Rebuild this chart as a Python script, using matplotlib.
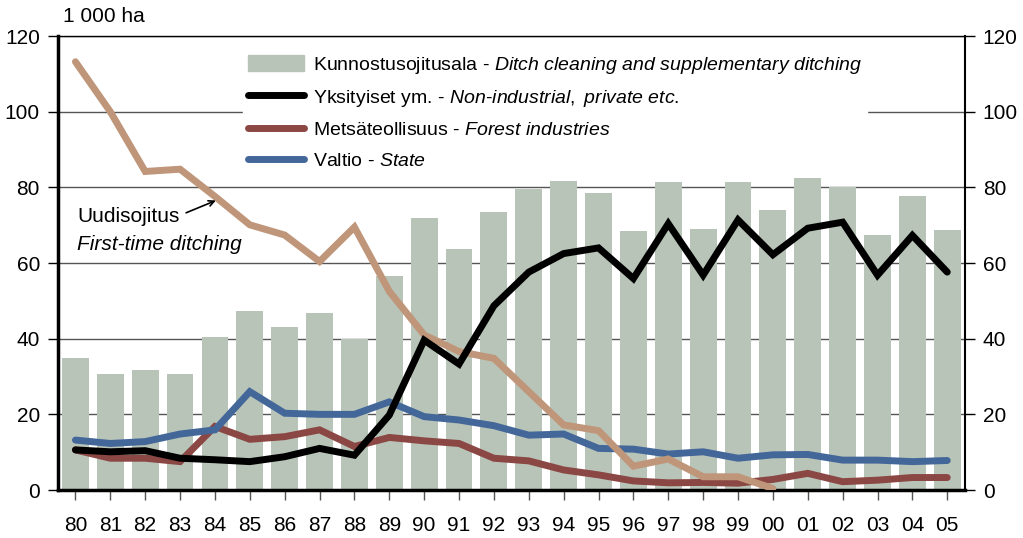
import numpy as np
import matplotlib
matplotlib.use("Agg")
import matplotlib.pyplot as plt
from matplotlib.lines import Line2D
from matplotlib.patches import Patch

plt.rcParams['font.family'] = ['Liberation Sans', 'DejaVu Sans']
plt.rcParams['mathtext.fontset'] = 'custom'
plt.rcParams['mathtext.rm'] = 'Liberation Sans'
plt.rcParams['mathtext.it'] = 'Liberation Sans:italic'

years = ["80", "81", "82", "83", "84", "85", "86", "87", "88", "89", "90", "91", "92",
         "93", "94", "95", "96", "97", "98", "99", "00", "01", "02", "03", "04", "05"]
kunnostus = [34.9, 30.7, 31.7, 30.7, 40.4, 47.3, 43.1, 46.8, 39.9, 56.6, 71.9, 63.7, 73.5,
             79.6, 81.8, 78.6, 68.4, 81.3, 69.0, 81.3, 74.1, 82.5, 80.0, 67.3, 77.8, 68.6]
yksityiset = [10.6, 10.1, 10.4, 8.4, 8.0, 7.5, 8.8, 11.0, 9.2, 19.8, 39.6, 33.3, 48.7,
              57.6, 62.5, 64.0, 55.9, 70.4, 56.8, 71.4, 62.2, 69.2, 70.8, 56.8, 67.3, 57.6]
metsateollisuus = [10.6, 8.4, 8.4, 7.5, 16.8, 13.4, 14.1, 15.9, 11.5, 13.9, 13.0, 12.3, 8.4,
                   7.7, 5.3, 4.0, 2.4, 1.9, 2.0, 1.8, 2.8, 4.4, 2.2, 2.6, 3.3, 3.3]
valtio = [13.2, 12.3, 12.8, 14.8, 15.9, 26.0, 20.3, 20.0, 20.0, 23.3, 19.4, 18.5, 17.0,
          14.5, 14.8, 11.0, 10.8, 9.5, 10.1, 8.4, 9.3, 9.4, 7.9, 7.9, 7.5, 7.8]
# first-time ditching, ends in 2000
uudisojitus = [113.2, 100.0, 84.2, 84.8, 77.6, 70.1, 67.4, 60.4, 69.5, 52.5, 41.0, 36.6, 34.8,
               26.0, 17.2, 15.7, 6.3, 8.2, 3.5, 3.5, 0.4]

C_BAR = "#b8c4b8"
C_BLACK = "#000000"
C_BROWN = "#8b4744"
C_BLUE = "#44679a"
C_TAN = "#bf967a"

x = np.arange(len(years))
fig = plt.figure(figsize=(10.23, 5.38), dpi=100)
ax = fig.add_axes([0.0567, 0.0892, 0.8863, 0.8438])

ax.set_axisbelow(True)
ax.yaxis.grid(True, color="#555555", lw=1.0)
ax.bar(x, kunnostus, width=0.77, color=C_BAR, zorder=2)
lw = 5
kw = dict(lw=lw, solid_capstyle="round", solid_joinstyle="miter")
ax.plot(x, yksityiset, color=C_BLACK, zorder=4, **kw)
ax.plot(x, metsateollisuus, color=C_BROWN, zorder=3, **kw)
ax.plot(x, valtio, color=C_BLUE, zorder=3, **kw)
ax.plot(x[:len(uudisojitus)], uudisojitus, color=C_TAN, zorder=3, **kw)

ax.set_xlim(-0.5, len(years) - 0.5)
ax.set_ylim(0, 120)
ax.set_yticks(range(0, 121, 20))
ax.set_xticks(x)
ax.set_xticklabels(years)
ax.tick_params(axis="y", labelsize=15, length=7, width=1, direction="out", pad=6,
               left=True, right=True, labelleft=True, labelright=True)
ax.tick_params(axis="x", labelsize=15, length=7, width=1, color="#555555", pad=12)

for s in ["left", "bottom"]:
    ax.spines[s].set_linewidth(2.5)
ax.spines["right"].set_linewidth(1.5)
ax.spines["top"].set_linewidth(1.0)

ax.text(0.005, 1.042, "1 000 ha", transform=ax.transAxes, fontsize=15, ha="left", va="center")

handles = [
    Patch(color=C_BAR),
    Line2D([], [], color=C_BLACK, lw=lw, solid_capstyle="round"),
    Line2D([], [], color=C_BROWN, lw=lw, solid_capstyle="round"),
    Line2D([], [], color=C_BLUE, lw=lw, solid_capstyle="round"),
]
labels = [
    "Kunnostusojitusala - $\\it{Ditch\\ cleaning\\ and\\ supplementary\\ ditching}$",
    "Yksityiset ym. - $\\it{Non\\text{-}industrial,\\ private\\ etc.}$",
    "Metsäteollisuus - $\\it{Forest\\ industries}$",
    "Valtio - $\\it{State}$",
]
leg = ax.legend(handles, labels, loc="upper left", bbox_to_anchor=(0.204, 0.97), frameon=True,
                fontsize=14, handlelength=2.9, handleheight=0.9, handletextpad=0.45,
                labelspacing=0.62, borderpad=0.25, borderaxespad=0)
leg.get_frame().set_facecolor("white")
leg.get_frame().set_edgecolor("white")
leg.get_frame().set_alpha(1)
leg.set_zorder(5)

ax.text(0.05, 72.3, "Uudisojitus", fontsize=15, ha="left", va="center", zorder=6)
ax.text(0.05, 65.0, "First-time ditching", fontsize=15, style="italic", ha="left", va="center", zorder=6)
ax.annotate("", xy=(4.1, 76.8), xytext=(3.1, 73.0),
            arrowprops=dict(arrowstyle="->", color="black", lw=1.2), zorder=6)

fig.savefig("out.png", dpi=100)
